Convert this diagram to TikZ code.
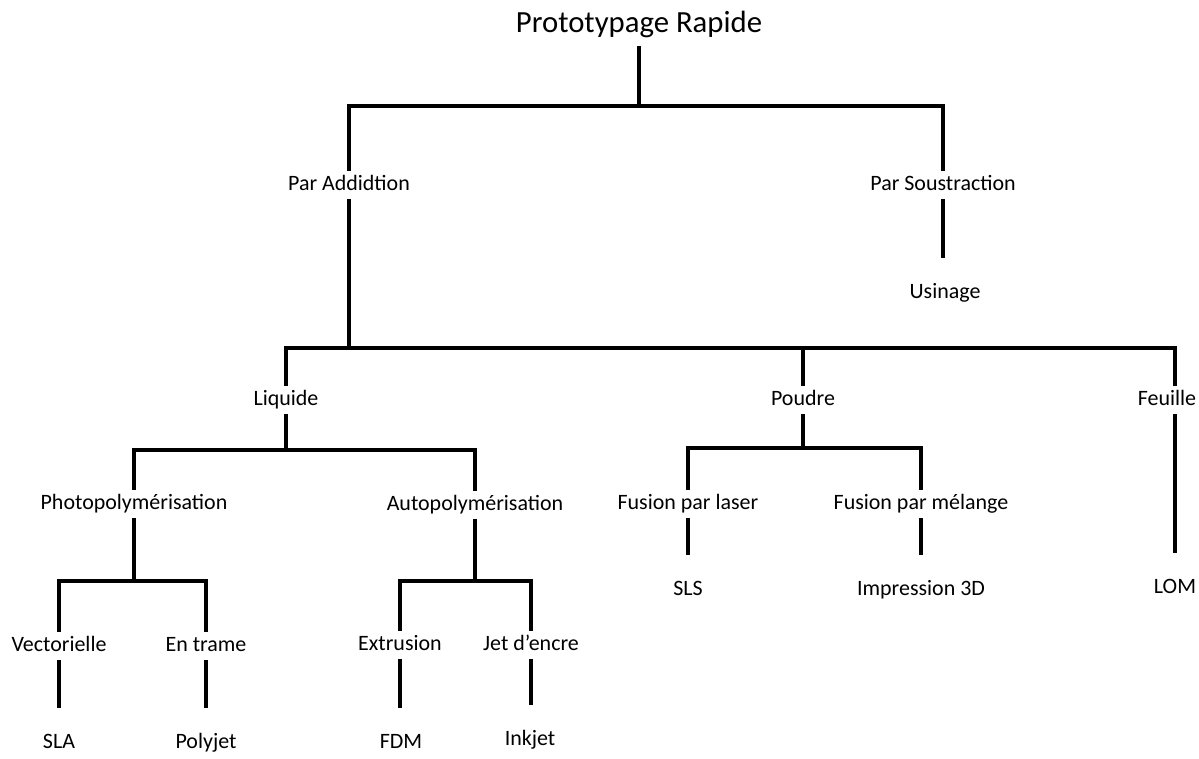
\documentclass[tikz,border=0pt]{standalone}
\usepackage{fontspec}
\setmainfont{Carlito}
\begin{document}
\begin{tikzpicture}[x=0.02cm, y=-0.02cm,
    lbl/.style={font=\fontsize{12.5}{15}\selectfont, inner xsep=2pt, inner ysep=2pt, text height=9pt, text depth=3pt},
    ttl/.style={font=\fontsize{17.5}{21}\selectfont, inner ysep=3pt, text height=13pt, text depth=4pt},
    branch/.style={line width=1.9pt},
    link/.style={line width=1.9pt, shorten >=12pt}]

    % Set page size
    \useasboundingbox (0,0) rectangle (1199,758);

    % Title
    \node[ttl] (root) at (639,25) {Prototypage Rapide};

    % First level
    \node[lbl] (add) at (349,185) {Par Addidtion};
    \node[lbl] (sous) at (943,185) {Par Soustraction};
    \node[lbl] (usin) at (945,293) {Usinage};

    % Materials
    \node[lbl] (liq) at (286,400) {Liquide};
    \node[lbl] (pou) at (803,400) {Poudre};
    \node[lbl] (feu) at (1167,400) {Feuille};

    % Liquid branch
    \node[lbl] (photo) at (134,504) {Photopolymérisation};
    \node[lbl] (auto) at (475,505) {Autopolymérisation};
    \node[lbl] (vect) at (59,646) {Vectorielle};
    \node[lbl] (trame) at (206,646) {En trame};
    \node[lbl] (extr) at (400,645) {Extrusion};
    \node[lbl] (jet) at (531,645) {Jet d’encre};
    \node[lbl] (sla) at (59,743) {SLA};
    \node[lbl] (poly) at (206,743) {Polyjet};
    \node[lbl] (fdm) at (401,743) {FDM};
    \node[lbl] (ink) at (530,740) {Inkjet};

    % Powder branch
    \node[lbl] (laser) at (688,504) {Fusion par laser};
    \node[lbl] (mel) at (921,504) {Fusion par mélange};
    \node[lbl] (sls) at (688,590) {SLS};
    \node[lbl] (imp) at (921,590) {Impression 3D};

    % Sheet branch
    \node[lbl] (lom) at (1175,588) {LOM};

    % Junctions
    \coordinate (j0) at (639,106);
    \coordinate (j1) at (349,348);
    \coordinate (j2) at (286,450);
    \coordinate (j3) at (134,581);
    \coordinate (j4) at (475,581);
    \coordinate (j5) at (803,448);

    % Tree lines
    \draw[branch] (root.south) -- (j0);
    \draw[branch] (add.north) |- (j0) -| (sous.north);
    \draw[link] (sous.south) -- (sous.south |- usin.north);

    \draw[branch] (add.south) -- (j1);
    \draw[branch] (liq.north) |- (j1) -| (feu.north -| lom.north);
    \draw[branch] (j1 -| pou.north) -- (pou.north);

    \draw[branch] (liq.south) -- (j2);
    \draw[branch] (photo.north) |- (j2) -| (auto.north);

    \draw[branch] (photo.south) -- (j3);
    \draw[branch] (vect.north) |- (j3) -| (trame.north);
    \draw[branch] (auto.south) -- (j4);
    \draw[branch] (extr.north) |- (j4) -| (jet.north);

    \draw[link] (vect.south) -- (sla.north);
    \draw[link] (trame.south) -- (poly.north);
    \draw[link] (extr.south) -- (extr.south |- fdm.north);
    \draw[link] (jet.south) -- (jet.south |- ink.north);

    \draw[branch] (pou.south) -- (j5);
    \draw[branch] (laser.north) |- (j5) -| (mel.north);
    \draw[link] (laser.south) -- (sls.north);
    \draw[link] (mel.south) -- (imp.north);

    \draw[link] (feu.south -| lom.north) -- (lom.north);
\end{tikzpicture}
\end{document}
